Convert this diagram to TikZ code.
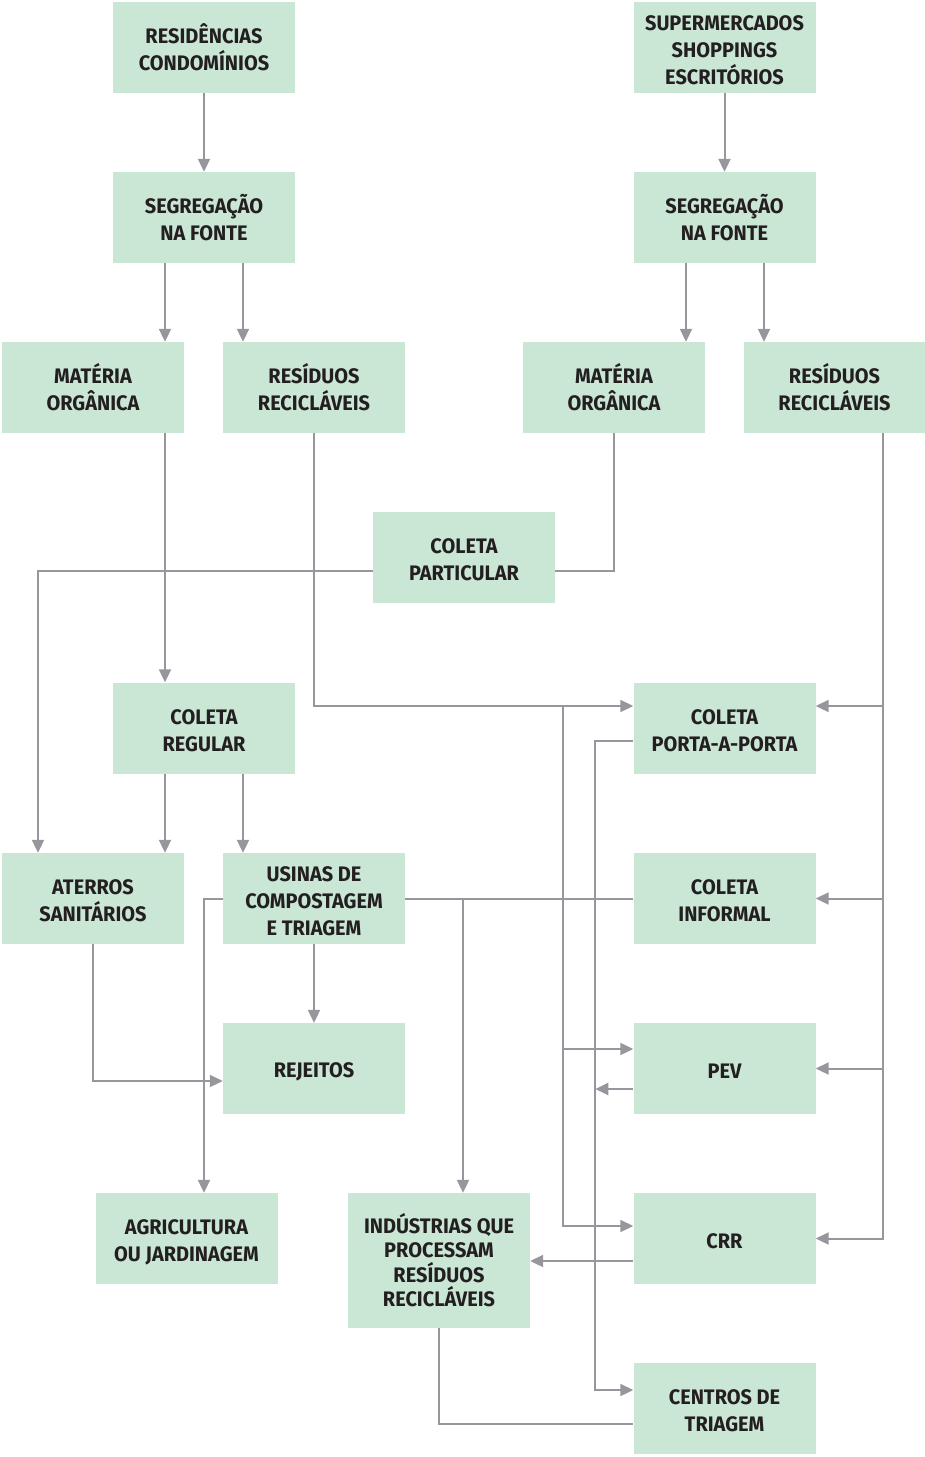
\documentclass[tikz,border=0pt]{standalone}
\usepackage{fontspec}
\setmainfont{Fira Sans}[FakeStretch=0.95]
\usetikzlibrary{arrows.meta,calc}
\definecolor{boxfill}{RGB}{202,230,213}
\definecolor{wirecol}{RGB}{150,150,156}
\definecolor{ink}{RGB}{35,31,32}
% centred label lines with fixed first-line height and last-line depth
\newcommand{\boxlines}[1]{\parbox{180pt}{\centering\rule{0pt}{22pt}#1\rule[-3pt]{0pt}{3pt}}}

\begin{document}
\begin{tikzpicture}[x=1pt,y=-1pt,
  box/.style={fill=boxfill, minimum width=182pt, minimum height=91pt,
    inner sep=0pt, text=ink,
    font=\bfseries\fontsize{21}{27}\selectfont},
  tallbox/.style={box, minimum height=135pt,
    font=\bfseries\fontsize{21}{24.5}\selectfont},
  link/.style={draw=wirecol, line width=2pt},
  arr/.style={link, -{Triangle[length=13pt,width=12pt]}}]
\useasboundingbox (0,0) rectangle (925,1457);

% boxes
\node[box] (res)  at (204,47.5)    {\boxlines{RESIDÊNCIAS\\CONDOMÍNIOS}};
\node[box] (sup)  at (724.5,47.5)  {\boxlines{SUPERMERCADOS\\SHOPPINGS\\ESCRITÓRIOS}};
\node[box] (seg1) at (204,217.5)   {\boxlines{SEGREGAÇÃO\\NA FONTE}};
\node[box] (seg2) at (724.5,217.5) {\boxlines{SEGREGAÇÃO\\NA FONTE}};
\node[box] (mo1)  at (93,387.5)    {\boxlines{MATÉRIA\\ORGÂNICA}};
\node[box] (rr1)  at (314,387.5)   {\boxlines{RESÍDUOS\\RECICLÁVEIS}};
\node[box] (mo2)  at (614,387.5)   {\boxlines{MATÉRIA\\ORGÂNICA}};
\node[box] (rr2)  at (834.5,387.5) {\boxlines{RESÍDUOS\\RECICLÁVEIS}};
\node[box] (cpart) at (464,557.5)  {\boxlines{COLETA\\PARTICULAR}};
\node[box] (creg) at (204,728)     {\boxlines{COLETA\\REGULAR}};
\node[box] (cpap) at (724.5,728)   {\boxlines{COLETA\\PORTA-A-PORTA}};
\node[box] (ater) at (93,898.5)    {\boxlines{ATERROS\\SANITÁRIOS}};
\node[box] (usin) at (314,898.5)   {\boxlines{USINAS DE\\COMPOSTAGEM\\E TRIAGEM}};
\node[box] (cinf) at (724.5,898.5) {\boxlines{COLETA\\INFORMAL}};
\node[box] (rej)  at (314,1068.5)  {\boxlines{REJEITOS}};
\node[box] (pev)  at (724.5,1068.5) {\boxlines{PEV}};
\node[box] (agri) at (186.5,1238.5) {\boxlines{AGRICULTURA\\OU JARDINAGEM}};
\node[tallbox] (ind) at (439,1260.5) {\boxlines{INDÚSTRIAS QUE\\PROCESSAM\\RESÍDUOS\\RECICLÁVEIS}};
\node[box] (crr)  at (724.5,1238.5) {\boxlines{CRR}};
\node[box] (ctri) at (724.5,1408.5) {\boxlines{CENTROS DE\\TRIAGEM}};

% ports
\coordinate (s1a) at ($(seg1.south)+(-39,0)$);
\coordinate (s1b) at ($(seg1.south)+(39,0)$);
\coordinate (s2a) at ($(seg2.south)+(-38.5,0)$);
\coordinate (s2b) at ($(seg2.south)+(39.5,0)$);
\coordinate (mo1out) at ($(mo1.south)+(72,0)$);
\coordinate (cpapin) at ($(cpap.west)+(0,-22)$);
\coordinate (split) at ($(cpapin)+(-70,0)$);
\coordinate (pevin) at ($(pev.west)+(0,-19.5)$);
\coordinate (crrin) at ($(crr.west)+(0,-12.5)$);
\coordinate (cpartin) at ($(cpart.east)+(0,13.5)$);
\coordinate (cpartout) at ($(cpart.west)+(0,13.5)$);
\coordinate (aterin) at ($(ater.north)+(-55,0)$);
\coordinate (trunk) at ($(rr2.south)+(48.5,0)$);
\coordinate (cpapR) at ($(cpap.east)+(0,-22)$);
\coordinate (cra) at ($(creg.south)+(-39,0)$);
\coordinate (crb) at ($(creg.south)+(39,0)$);
\coordinate (rejin) at ($(rej.west)+(0,12.5)$);
\coordinate (agrin) at ($(agri.north)+(17.5,0)$);
\coordinate (indin) at ($(ind.north)+(24,0)$);
\coordinate (cpapout) at ($(cpap.west)+(0,13)$);
\coordinate (col) at ($(cpapout)+(-38,0)$);
\coordinate (ctrin) at ($(ctri.west)+(0,-18.5)$);
\coordinate (pevout) at ($(pev.west)+(0,20.5)$);
\coordinate (crrout) at ($(crr.west)+(0,22.5)$);
\coordinate (ctrout) at ($(ctri.west)+(0,15.5)$);

% sources and segregation
\draw[arr] (res.south) -- (seg1.north);
\draw[arr] (sup.south) -- (seg2.north);
\draw[arr] (s1a) -- (s1a |- mo1.north);
\draw[arr] (s1b) -- (s1b |- rr1.north);
\draw[arr] (s2a) -- (s2a |- mo2.north);
\draw[arr] (s2b) -- (s2b |- rr2.north);

% organic matter
\draw[arr] (mo1out) -- (mo1out |- creg.north);
\draw[link] (mo2.south) |- (cpartin);
\draw[arr] (cpartout) -| (aterin);

% recyclables, left side
\draw[arr] (rr1.south) |- (cpapin);
\draw[arr] (split) |- (pevin);
\draw[arr] (split) |- (crrin);

% recyclables, right trunk
\draw[arr] (trunk) |- (crr.east);
\draw[arr] (trunk |- cpapR) -- (cpapR);
\draw[arr] (trunk |- cinf.east) -- (cinf.east);
\draw[arr] (trunk |- pev.east) -- (pev.east);

% regular collection and treatment
\draw[arr] (cra) -- (cra |- ater.north);
\draw[arr] (crb) -- (crb |- usin.north);
\draw[arr] (usin.south) -- (rej.north);
\draw[arr] (ater.south) |- (rejin);
\draw[arr] (usin.west) -| (agrin);
\draw[link] (cinf.west) -- (usin.east);
\draw[arr] (indin |- usin.east) -- (indin);

% sorting and industry
\draw[arr] (cpapout) -- (col) |- (ctrin);
\draw[arr] (pevout) -- (col |- pevout);
\draw[arr] (crrout) -- (ind.east |- crrout);
\draw[link] (ind.south) |- (ctrout);
\end{tikzpicture}
\end{document}
